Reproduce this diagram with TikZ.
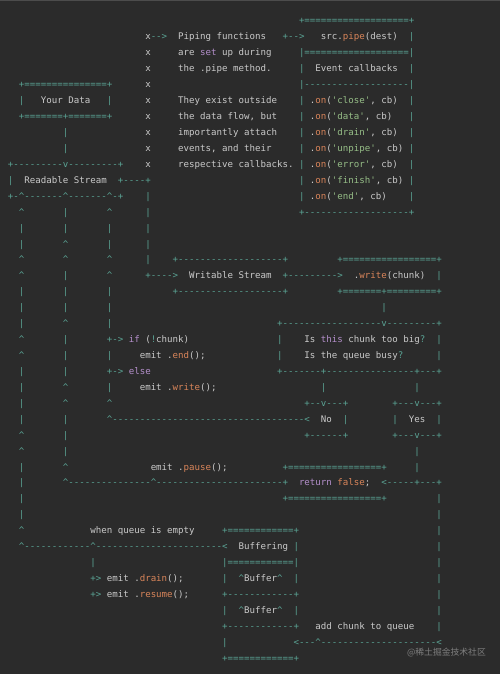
\documentclass[tikz,border=0pt]{standalone}
\usepackage{fontspec}
\setmonofont{DejaVu Sans Mono}
\newfontfamily\cjkfont{Noto Sans CJK SC}
\definecolor{bgc}{HTML}{2B2B2B}
\definecolor{txt}{HTML}{CACACA}
\definecolor{opc}{HTML}{5AA394}
\definecolor{kwc}{HTML}{B48FCB}
\definecolor{fnc}{HTML}{D9855A}
\definecolor{stc}{HTML}{96BE87}
\definecolor{wmc}{HTML}{7E7E7E}
\ExplSyntaxOn
\cs_new:Npn \Rp #1#2 { \prg_replicate:nn {#1} {#2} }
\ExplSyntaxOff
\newlength\cw
\newcommand\monofnt{\ttfamily\fontsize{9.12pt}{16pt}\selectfont}
\AtBeginDocument{\settowidth\cw{\monofnt x}}
\newcommand\Col[2]{\rlap{\hskip#1\cw\relax#2}}
\newcommand\Op[1]{\textcolor{opc}{#1}}
\newcommand\Kw[1]{\textcolor{kwc}{#1}}
\newcommand\Fn[1]{\textcolor{fnc}{#1}}
\newcommand\St[1]{\textcolor{stc}{#1}}
\newcommand\OC[2]{\Col{#1}{\Op{#2}}}
\newcommand\Ct{\textasciicircum}
\newcommand\On[1]{.\Fn{on}(\St{'#1'}, cb)}
\tikzset{
  ln/.style={anchor=base west, inner sep=0pt, outer sep=0pt, font=\monofnt, text=txt},
  wm/.style={anchor=east, inner sep=0pt, font=\cjkfont\fontsize{8.8pt}{10pt}\selectfont, text=wmc}
}
\newcommand\Ln[2]{\node[ln] (l#1) at (7.5,{-24-15.93*(#1-1)}) {#2\hskip79\cw};}
\begin{document}
\begin{tikzpicture}[x=1pt,y=1pt]
\useasboundingbox (0,0) rectangle (500,-674);
\fill[bgc] (0,0) rectangle (500,-674);
\fill[black!70!white] (0,0) rectangle (500,-1.5);
\Ln{1}{\OC{53}{+\Rp{19}{=}+}}
\Ln{2}{\Col{25}{x\Op{-->}}\Col{31}{Piping functions}\OC{50}{+-->}\Col{57}{src.\Fn{pipe}(dest)}\OC{73}{|}}
\Ln{3}{\Col{25}{x}\Col{31}{are \Kw{set} up during}\OC{53}{|\Rp{19}{=}|}}
\Ln{4}{\Col{25}{x}\Col{31}{the .pipe method.}\OC{53}{|}\Col{56}{Event callbacks}\OC{73}{|}}
\Ln{5}{\OC{2}{+\Rp{15}{=}+}\Col{25}{x}\OC{53}{|\Rp{19}{-}|}}
\Ln{6}{\OC{2}{|}\Col{6}{Your Data}\OC{18}{|}\Col{25}{x}\Col{31}{They exist outside}\OC{53}{|}\Col{55}{\On{close}}\OC{73}{|}}
\Ln{7}{\OC{2}{+\Rp{7}{=}+\Rp{7}{=}+}\Col{25}{x}\Col{31}{the data flow, but}\OC{53}{|}\Col{55}{\On{data}}\OC{73}{|}}
\Ln{8}{\OC{10}{|}\Col{25}{x}\Col{31}{importantly attach}\OC{53}{|}\Col{55}{\On{drain}}\OC{73}{|}}
\Ln{9}{\OC{10}{|}\Col{25}{x}\Col{31}{events, and their}\OC{53}{|}\Col{55}{\On{unpipe}}\OC{73}{|}}
\Ln{10}{\OC{0}{+\Rp{9}{-}v\Rp{9}{-}+}\Col{25}{x}\Col{31}{respective callbacks.}\OC{53}{|}\Col{55}{\On{error}}\OC{73}{|}}
\Ln{11}{\OC{0}{|}\Col{3}{Readable Stream}\OC{20}{+----+}\OC{53}{|}\Col{55}{\On{finish}}\OC{73}{|}}
\Ln{12}{\OC{0}{+-\Ct\Rp{7}{-}\Ct\Rp{7}{-}\Ct-+}\OC{25}{|}\OC{53}{|}\Col{55}{\On{end}}\OC{73}{|}}
\Ln{13}{\OC{2}{\Ct}\OC{10}{|}\OC{18}{\Ct}\OC{25}{|}\OC{53}{+\Rp{19}{-}+}}
\Ln{14}{\OC{2}{|}\OC{10}{|}\OC{18}{|}\OC{25}{|}}
\Ln{15}{\OC{2}{|}\OC{10}{\Ct}\OC{18}{|}\OC{25}{|}}
\Ln{16}{\OC{2}{\Ct}\OC{10}{\Ct}\OC{18}{\Ct}\OC{25}{|}\OC{30}{+\Rp{19}{-}+}\OC{60}{+\Rp{17}{=}+}}
\Ln{17}{\OC{2}{\Ct}\OC{10}{|}\OC{18}{\Ct}\OC{25}{+---->}\Col{33}{Writable Stream}\OC{50}{+\Rp{9}{-}>}\Col{63}{.\Fn{write}(chunk)}\OC{78}{|}}
\Ln{18}{\OC{2}{|}\OC{10}{|}\OC{18}{|}\OC{30}{+\Rp{19}{-}+}\OC{60}{+\Rp{7}{=}+\Rp{9}{=}+}}
\Ln{19}{\OC{2}{|}\OC{10}{|}\OC{18}{|}\OC{68}{|}}
\Ln{20}{\OC{2}{|}\OC{10}{\Ct}\OC{18}{|}\OC{49}{+\Rp{18}{-}v\Rp{9}{-}+}}
\Ln{21}{\OC{2}{\Ct}\OC{10}{|}\OC{18}{+->}\Col{22}{\Kw{if} (\Op{!}chunk)}\OC{49}{|}\Col{54}{Is \Kw{this} chunk too big\Op{?}}\OC{78}{|}}
\Ln{22}{\OC{2}{\Ct}\OC{10}{|}\OC{18}{|}\Col{24}{emit .\Fn{end}();}\OC{49}{|}\Col{54}{Is the queue busy\Op{?}}\OC{78}{|}}
\Ln{23}{\OC{2}{|}\OC{10}{|}\OC{18}{+->}\Col{22}{\Kw{else}}\OC{49}{+\Rp{7}{-}+\Rp{16}{-}+\Rp{3}{-}+}}
\Ln{24}{\OC{2}{|}\OC{10}{\Ct}\OC{18}{|}\Col{24}{emit .\Fn{write}();}\OC{57}{|}\OC{74}{|}}
\Ln{25}{\OC{2}{|}\OC{10}{\Ct}\OC{18}{\Ct}\OC{54}{+--v---+}\OC{70}{+---v---+}}
\Ln{26}{\OC{2}{|}\OC{10}{|}\OC{18}{\Ct\Rp{35}{-}<}\Col{57}{No}\OC{61}{|}\OC{70}{|}\Col{73}{Yes}\OC{78}{|}}
\Ln{27}{\OC{2}{\Ct}\OC{10}{|}\OC{54}{+------+}\OC{70}{+---v---+}}
\Ln{28}{\OC{2}{\Ct}\OC{10}{|}\OC{74}{|}}
\Ln{29}{\OC{2}{|}\OC{10}{\Ct}\Col{26}{emit .\Fn{pause}();}\OC{50}{+\Rp{17}{=}+}\OC{74}{|}}
\Ln{30}{\OC{2}{|}\OC{10}{\Ct\Rp{15}{-}\Ct\Rp{23}{-}+}\Col{53}{\Kw{return} \Fn{false};}\OC{68}{<-----+---+}}
\Ln{31}{\OC{2}{|}\OC{50}{+\Rp{17}{=}+}\OC{78}{|}}
\Ln{32}{\OC{2}{|}\OC{78}{|}}
\Ln{33}{\OC{2}{\Ct}\Col{15}{when queue is empty}\OC{39}{+\Rp{12}{=}+}\OC{78}{|}}
\Ln{34}{\OC{2}{\Ct\Rp{12}{-}\Ct\Rp{23}{-}<}\Col{42}{Buffering}\OC{52}{|}\OC{78}{|}}
\Ln{35}{\OC{15}{|}\OC{39}{|\Rp{12}{=}|}\OC{78}{|}}
\Ln{36}{\Col{15}{\Op{+>} emit .\Fn{drain}();}\OC{39}{|}\Col{42}{\Op{\Ct}Buffer\Op{\Ct}}\OC{52}{|}\OC{78}{|}}
\Ln{37}{\Col{15}{\Op{+>} emit .\Fn{resume}();}\OC{39}{+\Rp{12}{-}+}\OC{78}{|}}
\Ln{38}{\OC{39}{|}\Col{42}{\Op{\Ct}Buffer\Op{\Ct}}\OC{52}{|}\OC{78}{|}}
\Ln{39}{\OC{39}{+\Rp{12}{-}+}\Col{56}{add chunk to queue}\OC{78}{|}}
\Ln{40}{\OC{39}{|}\OC{52}{<---\Ct\Rp{21}{-}<}}
\Ln{41}{\OC{39}{+\Rp{12}{=}+}}
\node[wm] (wmark) at (486,-653) {@稀土掘金技术社区};
\end{tikzpicture}
\end{document}
